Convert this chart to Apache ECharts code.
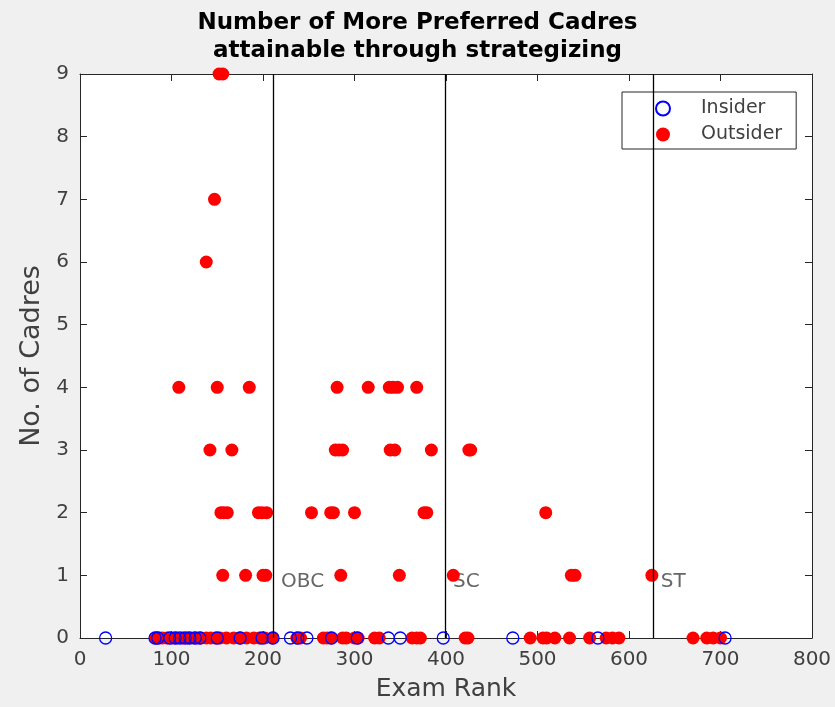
<!DOCTYPE html>
<html>
<head>
<meta charset="utf-8">
<script src="https://cdn.jsdelivr.net/npm/echarts@6/dist/echarts.min.js"></script>
<style>
html,body{margin:0;padding:0;background:#f0f0f0;}
#c{width:835px;height:707px;}
</style>
</head>
<body>
<div id="c"></div>
<script>
const titleText = "Number of More Preferred Cadres\nattainable through strategizing";
const xTicks = [0,100,200,300,400,500,600,700,800];
const yTicks = [0,1,2,3,4,5,6,7,8,9];

// Insider points (all at 0 cadres)
const insiderRank = [28, 82, 85, 98, 104, 109, 115, 120, 126, 131, 150, 175, 199, 211, 230, 238, 248, 275, 303, 337, 350, 397, 473, 566, 705];
const insiderCadres = insiderRank.map(() => 0);

// Outsider points, grouped by no. of cadres
const outsiderLevels = [9, 7, 6, 4, 3, 2, 1, 0];
const outsiderRanks = [
  [152, 156],
  [147],
  [138],
  [108, 150, 185, 281, 315, 338, 342, 347, 368],
  [142, 166, 279, 283, 287, 339, 344, 384, 425, 427],
  [154, 157, 161, 195, 199, 204, 253, 274, 277, 300, 376, 379, 509],
  [156, 181, 200, 203, 285, 349, 408, 537, 541, 625],
  [83, 86, 90, 95, 100, 105, 112, 118, 125, 132, 138, 143, 148, 153, 160, 168, 175, 182, 190, 196, 202, 210, 237, 241, 266, 270, 274, 287, 291, 300, 304, 322, 327, 363, 368, 372, 421, 424, 492, 506, 510, 519, 535, 557, 575, 582, 589, 670, 685, 692, 700]
];

// Category cut-off lines
const cutNames = ["OBC", "SC", "ST"];
const cutRanks = [211, 399, 626];
const cutLabelY = 0.9;

const outsiderData = [];
outsiderLevels.forEach((lv, i) => outsiderRanks[i].forEach(r => outsiderData.push([r, lv])));
const insiderData = insiderRank.map((r, i) => [r, insiderCadres[i]]);

const axisColor = '#262626';
const labelColor = '#404040';
const font = 'DejaVu Sans';

const chart = echarts.init(document.getElementById('c'));
chart.setOption({
  backgroundColor: '#f0f0f0',
  animation: false,
  title: {
    text: titleText,
    left: 'center',
    top: 4,
    textStyle: {fontFamily: font, fontSize: 23, fontWeight: 'bold', color: '#000', lineHeight: 28}
  },
  grid: {left: 80, right: 23, top: 74, bottom: 68, show: true, backgroundColor: '#ffffff', borderWidth: 0},
  legend: {
    data: ['Insider', 'Outsider'],
    orient: 'vertical',
    left: 622, top: 92,
    padding: [7, 14, 5, 33],
    itemWidth: 14, itemHeight: 14, itemGap: 7,
    backgroundColor: '#ffffff',
    borderColor: axisColor, borderWidth: 1,
    textStyle: {fontFamily: font, fontSize: 19, lineHeight: 14, color: labelColor, padding: [0, 0, 0, 26]}
  },
  xAxis: [{
    type: 'value', min: 0, max: 800, interval: 100,
    name: 'Exam Rank', nameLocation: 'middle', nameGap: 39,
    nameTextStyle: {fontFamily: font, fontSize: 25, color: labelColor},
    axisLine: {show: true, onZero: false, lineStyle: {color: axisColor}},
    axisTick: {show: true, inside: true, length: 7, lineStyle: {color: axisColor}},
    axisLabel: {fontFamily: font, fontSize: 20, color: labelColor, margin: 12},
    splitLine: {show: false}
  }, {
    type: 'value', min: 0, max: 800, interval: 100, position: 'top',
    axisLine: {show: true, onZero: false, lineStyle: {color: axisColor}},
    axisTick: {show: true, inside: true, length: 7, lineStyle: {color: axisColor}},
    axisLabel: {show: false}, splitLine: {show: false}
  }],
  yAxis: [{
    type: 'value', min: 0, max: 9, interval: 1,
    name: 'No. of Cadres', nameLocation: 'middle', nameGap: 27,
    nameTextStyle: {fontFamily: font, fontSize: 27, color: labelColor},
    axisLine: {show: true, onZero: false, lineStyle: {color: axisColor}},
    axisTick: {show: true, inside: true, length: 7, lineStyle: {color: axisColor}},
    axisLabel: {fontFamily: font, fontSize: 20, color: labelColor, margin: 11},
    splitLine: {show: false}
  }, {
    type: 'value', min: 0, max: 9, interval: 1, position: 'right',
    axisLine: {show: true, onZero: false, lineStyle: {color: axisColor}},
    axisTick: {show: true, inside: true, length: 7, lineStyle: {color: axisColor}},
    axisLabel: {show: false}, splitLine: {show: false}
  }],
  series: [
    {
      name: 'Insider', type: 'scatter', data: insiderData, z: 4,
      symbol: 'circle', symbolSize: 12,
      itemStyle: {color: 'rgba(0,0,0,0)', borderColor: '#0000ff', borderWidth: 1.3, opacity: 1}
    },
    {
      name: 'Outsider', type: 'scatter', data: outsiderData, z: 3,
      symbol: 'circle', symbolSize: 13,
      itemStyle: {color: '#ff0000', opacity: 1}
    },
    {
      name: 'cutoffs', type: 'scatter', z: 2, silent: true,
      data: cutRanks.map((r, i) => [r, cutLabelY, cutNames[i]]),
      symbolSize: 0,
      label: {
        show: true, position: 'right', distance: 8,
        formatter: p => p.value[2],
        fontFamily: font, fontSize: 20, color: labelColor
      },
      markLine: {
        silent: true, symbol: 'none',
        label: {show: false},
        lineStyle: {color: '#000', width: 1.3, type: 'solid'},
        data: cutRanks.map(r => ({xAxis: r}))
      }
    }
  ]
});
</script>
</body>
</html>
